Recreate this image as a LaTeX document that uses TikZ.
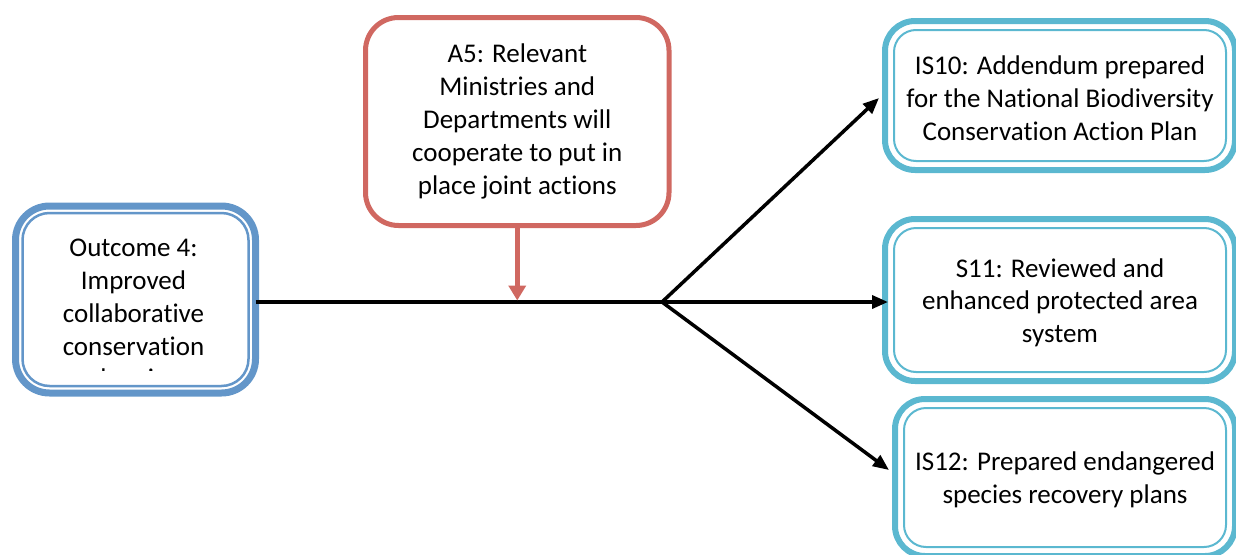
\documentclass[tikz,border=0pt]{standalone}
\usepackage{fontspec}
\setmainfont{Carlito}[Ligatures=NoCommon]
\usetikzlibrary{arrows.meta,calc}
\definecolor{redline}{RGB}{208,104,97}
\definecolor{blueline}{RGB}{99,150,201}
\definecolor{cyanline}{RGB}{91,184,208}
\begin{document}
\begin{tikzpicture}[x=1pt,y=-1pt,
  txt/.style={font=\fontsize{27}{32.8}\selectfont, align=center, text=black},
  boxbase/.style={txt, rectangle, outer sep=0pt, inner sep=0pt, fill=white},
  outbox/.style={boxbase, draw=blueline, line width=7pt, rounded corners=34pt},
  redbox/.style={boxbase, draw=redline, line width=5pt, rounded corners=33pt},
  cyanbox/.style={boxbase, draw=cyanline, line width=6pt, rounded corners=30pt},
  conn/.style={line width=3.5pt, black, -{Triangle[length=16pt,width=13pt]}},
  redconn/.style={line width=4.5pt, redline, -{Triangle[length=15pt,width=17pt]}}
]
\useasboundingbox (0,0) rectangle (1236,554);

% Outcome box
\node[outbox, minimum width=240pt, minimum height=187pt] (out) at (135.5,299.5) {};
\draw[blueline, line width=2.5pt, rounded corners=27pt]
  ([shift={(7,7)}]out.north west) rectangle ([shift={(-7,-7)}]out.south east);
\begin{scope}
  \clip (20,210) rectangle (252,370);
  \node[txt, anchor=north, inner sep=0pt] (outtext) at (133.5,239)
    {Outcome 4:\\Improved\\collaborative\\conservation\\planning};
\end{scope}

% A5 box
\node[redbox, minimum width=303.5pt, minimum height=208pt] (a5) at (517.25,121.5)
  {A5: Relevant\\Ministries and\\Departments will\\cooperate to put in\\place joint actions};

% Right boxes
\node[cyanbox, minimum width=350pt, minimum height=149pt] (is10) at (1060,95.5)
  {\rule{0pt}{24pt}IS10: Addendum prepared\\for the National Biodiversity\\Conservation Action Plan};
\draw[cyanline, line width=2pt, rounded corners=22pt]
  ([shift={(9,9)}]is10.north west) rectangle ([shift={(-9,-9)}]is10.south east);

\node[cyanbox, minimum width=350pt, minimum height=162pt] (s11) at (1060,300)
  {\rule{0pt}{24pt}S11: Reviewed and\\enhanced protected area\\system};
\draw[cyanline, line width=2pt, rounded corners=22pt]
  ([shift={(9,9)}]s11.north west) rectangle ([shift={(-9,-9)}]s11.south east);

\node[cyanbox, minimum width=340pt, minimum height=157pt] (is12) at (1065,477.5)
  {\rule{0pt}{24pt}IS12: Prepared endangered\\species recovery plans};
\draw[cyanline, line width=2pt, rounded corners=22pt]
  ([shift={(9,9)}]is12.north west) rectangle ([shift={(-9,-9)}]is12.south east);

% Connectors
\coordinate (branch) at (662,302);
\draw[line width=3.5pt, black] (out.east |- branch) -- (branch);
\draw[redconn] (a5.south) -- ($(a5.south |- branch)+(0,-1.5)$);
\draw[conn] (branch) -- ($(is10.west)+(-6,2.5)$);
\draw[conn] (branch) -- ($(s11.west |- branch)+(3,0)$);
\draw[conn] (branch) -- ($(is12.west)+(-6,-7.5)$);
\end{tikzpicture}
\end{document}
